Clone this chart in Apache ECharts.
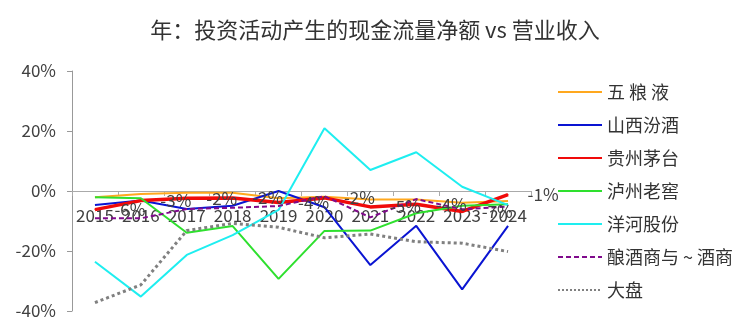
<!DOCTYPE html>
<html>
<head>
<meta charset="utf-8">
<script src="https://cdn.jsdelivr.net/npm/echarts@6/dist/echarts.min.js"></script>
<style>html,body{margin:0;padding:0;background:#fff;}#c{width:750px;height:333px;}</style>
</head>
<body>
<div id="c"></div>
<script>
var categories = ['2015','2016','2017','2018','2019','2020','2021','2022','2023','2024'];
var wuliangye = [-2.1, -1.0, -0.6, -0.6, -2.4, -1.9, -2.8, -2.8, -3.9, -3.3];
var shanxifenjiu = [-4.7, -3.2, -6.0, -4.9, 0.0, -5.4, -24.7, -11.6, -32.8, -11.6];
var guizhoumaotai = [-6.2, -3.2, -2.4, -2.3, -3.8, -2.3, -5.3, -4.4, -6.8, -1.2];
var luzhoulaojiao = [-2.1, -2.4, -13.9, -11.7, -29.3, -13.3, -13.2, -7.4, -4.9, -4.4];
var yanghe = [-23.6, -35.2, -21.3, -14.7, -6.3, 20.9, 7.0, 12.9, 1.4, -4.7];
var niangjiu = [-9.1, -9.1, -6.0, -5.6, -5.0, -1.7, -8.8, -2.7, -6.1, -5.2];
var dapan = [-37.2, -31.3, -13.2, -10.8, -12.1, -15.6, -14.3, -16.9, -17.4, -20.2];
var yTicks = [-40, -20, 0, 20, 40];

var font = '"Noto Sans CJK SC", "Noto Sans", sans-serif';
var txt = '#404040';
function line(name, data, color, width, type, extra) {
  var s = {
    name: name, type: 'line', data: data, symbol: 'none', showSymbol: false,
    lineStyle: {color: color, width: width, type: type || 'solid'},
    itemStyle: {color: color}, z: 2
  };
  if (extra) for (var k in extra) s[k] = extra[k];
  return s;
}
var chart = echarts.init(document.getElementById('c'));
chart.setOption({
  animation: false,
  backgroundColor: '#fff',
  title: {
    text: '年：投资活动产生的现金流量净额 vs 营业收入',
    left: 'center', top: 14,
    textStyle: {fontFamily: font, fontSize: 22, fontWeight: 'normal', color: '#333'}
  },
  legend: {
    orient: 'vertical', left: 552, top: 78,
    itemWidth: 44, itemHeight: 14, itemGap: 15,
    itemStyle: {opacity: 0},
    textStyle: {fontFamily: font, fontSize: 18, color: '#333'},
    data: ['五 粮 液','山西汾酒','贵州茅台','泸州老窖','洋河股份','酿酒商与 ~ 酒商','大盘']
  },
  grid: {left: 72, right: 219, top: 71, bottom: 22, outerBoundsMode: 'none'},
  xAxis: {
    type: 'category', data: categories, boundaryGap: true,
    offset: -120,
    axisLine: {onZero: false, lineStyle: {color: '#aaa', width: 1}},
    axisTick: {show: true, length: 5, lineStyle: {color: '#aaa'}},
    axisLabel: {fontFamily: font, fontSize: 17, color: txt, margin: 16, interval: 0},
    splitLine: {show: false}, z: 1
  },
  yAxis: {
    type: 'value', min: yTicks[0], max: yTicks[yTicks.length-1], interval: 20,
    axisLine: {show: true, lineStyle: {color: '#999', width: 1}},
    axisTick: {show: true, length: 5, lineStyle: {color: '#999'}},
    axisLabel: {fontFamily: font, fontSize: 17, color: txt, margin: 16,
      formatter: function(v){ return v + '%'; }},
    splitLine: {show: false}
  },
  series: [
    line('五 粮 液', wuliangye, '#FFA81E', 2),
    line('山西汾酒', shanxifenjiu, '#0A14D2', 2),
    line('贵州茅台', guizhoumaotai, '#F00A0A', 3.5, 'solid', {
      symbol: 'circle', showSymbol: true, symbolSize: 1,
      label: {show: true, position: 'right', distance: 19, fontFamily: font, fontSize: 17, color: txt,
        formatter: function(p){ return Math.round(p.value) + '%'; }}
    }),
    line('泸州老窖', luzhoulaojiao, '#2EE02E', 2),
    line('洋河股份', yanghe, '#1EEEF0', 2),
    line('酿酒商与 ~ 酒商', niangjiu, '#800A8C', 2, [5, 3]),
    line('大盘', dapan, '#808080', 3, 'dotted')
  ]
});
</script>
</body>
</html>
